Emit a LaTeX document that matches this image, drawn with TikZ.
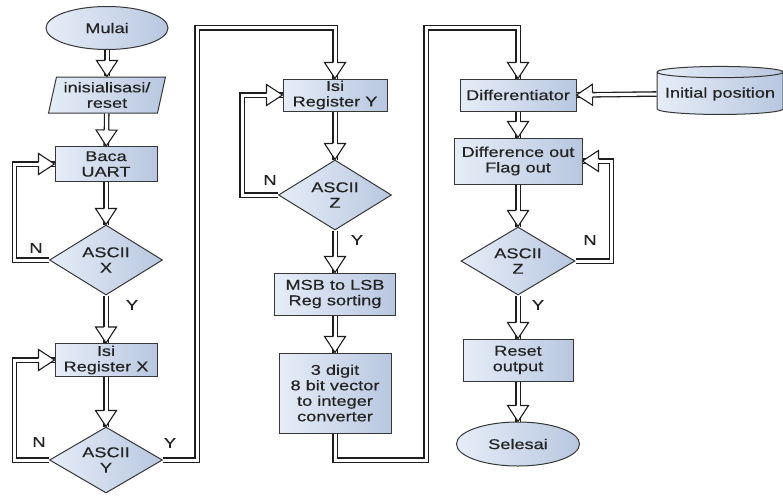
\documentclass[tikz,border=0pt]{standalone}
\usepackage{fontspec}
\setmainfont[FakeStretch=1.28,FakeBold=0.4]{Liberation Sans}
\usetikzlibrary{shapes.geometric,decorations.markings}
\definecolor{fillL}{RGB}{230,237,247}
\definecolor{fillR}{RGB}{184,199,224}
\definecolor{edge}{RGB}{55,55,55}
\definecolor{txt}{RGB}{35,35,35}
\definecolor{wire}{RGB}{30,30,30}
\tikzset{
  base/.style={draw=edge, line width=1pt, left color=fillL, right color=fillR,
    text=txt, align=center, inner sep=1pt, font=\fontsize{14.2}{15.5}\selectfont},
  proc/.style={base, rectangle},
  term/.style={base, ellipse},
  dec/.style={base, diamond, aspect=1.6, inner sep=0pt},
  io/.style={base, trapezium, trapezium left angle=76, trapezium right angle=104,
    trapezium stretches=true},
  store/.style={base, cylinder, shape border rotate=90, aspect=0.1},
  conn/.style={draw=wire, line width=1.3pt, double=white, double distance=3pt,
    line join=miter,
    postaction={decorate, decoration={markings, mark=at position 1 with {
      \fill[white] (-16pt,-10.5pt) -- (0pt,0pt) -- (-16pt,10.5pt) -- cycle;
      \draw[wire, line width=1.1pt, line join=miter]
        (-16pt,-2.15pt) -- (-16pt,-10.5pt) -- (0pt,0pt) -- (-16pt,10.5pt) -- (-16pt,2.15pt);}}}},
  lbl/.style={text=txt, font=\fontsize{14.2}{15.5}\selectfont, inner sep=0pt}
}
\begin{document}
\begin{tikzpicture}[x=1pt,y=-1pt]
\fill[white] (0,0) rectangle (783,495);
\useasboundingbox (0,0) rectangle (783,495);

% column 1
\node[term, minimum width=122, minimum height=43] (mulai) at (107,28) {Mulai};
\node[io, minimum width=117, minimum height=36] (init) at (107,95) {inisialisasi/\\reset};
\node[proc, minimum width=102, minimum height=35] (baca) at (106,164) {Baca\\UART};
\node[dec, minimum width=113, minimum height=70] (ax) at (106,260) {ASCII\\X};
\node[proc, minimum width=102, minimum height=33] (rx) at (106,360) {Isi\\Register X};
\node[dec, minimum width=113, minimum height=66] (ay) at (106,460) {ASCII\\Y};

% column 2
\node[proc, minimum width=104, minimum height=32] (ry) at (335,95) {Isi\\Register Y};
\node[dec, minimum width=113, minimum height=70] (az) at (335,195) {ASCII\\Z};
\node[proc, minimum width=121, minimum height=42] (msb) at (335,294) {MSB to LSB\\Reg sorting};
\node[proc, minimum width=112, minimum height=80] (conv) at (335,393) {3 digit\\8 bit vector\\to integer\\converter};

% column 3
\node[proc, minimum width=116, minimum height=32] (diff) at (518,95) {Differentiator};
\node[store, minimum width=126, minimum height=48] (ipos) at (720,94) {Initial position};
\node[proc, minimum width=128, minimum height=46] (dout) at (518,161) {Difference out\\Flag out};
\node[dec, minimum width=114, minimum height=68] (az2) at (518,261) {ASCII\\Z};
\node[proc, minimum width=110, minimum height=42] (reset) at (518,360) {Reset\\output};
\node[term, minimum width=123, minimum height=44] (selesai) at (518,444) {Selesai};

\coordinate (top1) at (197,28);
\coordinate (top2) at (426,28);
\coordinate (bot2) at (426,460);

% connectors
\draw[conn] (mulai) -- (init);
\draw[conn] (init) -- (baca);
\draw[conn] (baca) -- (ax);
\draw[conn] (ax) -- (rx);
\draw[conn] (rx) -- (ay);
\draw[conn] (ax.west) -- ++(-34.5,0) |- (baca.west);
\draw[conn] (ay.west) -- ++(-34.5,0) |- (rx.west);
\draw[conn] (ay.east) -| (top1) -| (ry.north);
\draw[conn] (ry) -- (az);
\draw[conn] (az.west) -- ++(-36,0) |- (ry.west);
\draw[conn] (az) -- (msb);
\draw[conn] (msb) -- (conv);
\draw[conn] (conv.south) |- (bot2) -- (top2) -| (diff.north);
\draw[conn] (ipos.west) -- (diff.east);
\draw[conn] (diff) -- (dout);
\draw[conn] (dout) -- (az2);
\draw[conn] (az2.east) -- ++(36,0) |- (dout.east);
\draw[conn] (az2) -- (reset);
\draw[conn] (reset) -- (selesai);

% labels
\node[lbl] (n1) at (36,248) {N};
\node[lbl] (y1) at (132,305) {Y};
\node[lbl] (n2) at (39,442) {N};
\node[lbl] (y2) at (170,443) {Y};
\node[lbl] (n3) at (270,180) {N};
\node[lbl] (y3) at (357,240) {Y};
\node[lbl] (n4) at (590,240) {N};
\node[lbl] (y4) at (538,305) {Y};
\end{tikzpicture}
\end{document}
